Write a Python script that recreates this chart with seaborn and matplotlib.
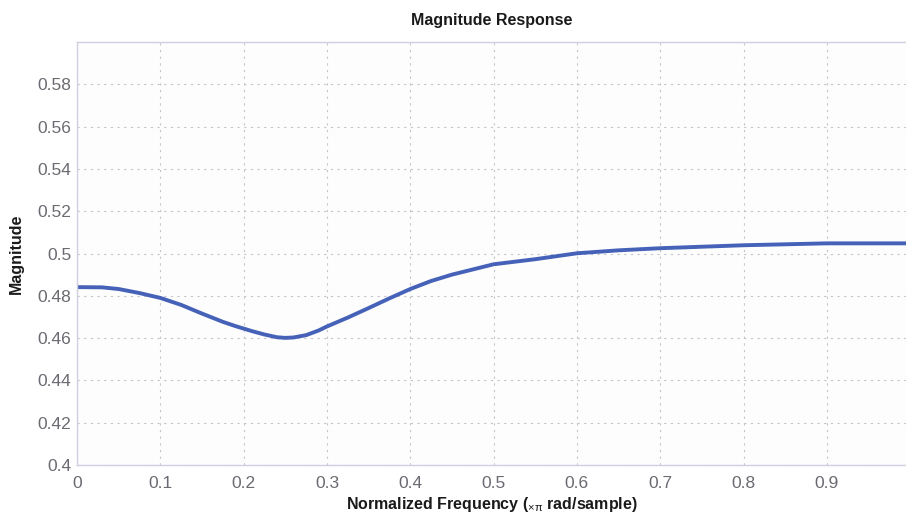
import matplotlib
matplotlib.use("Agg")
import matplotlib.pyplot as plt
import seaborn as sns
import pandas as pd

# Normalized frequency (x pi rad/sample) and magnitude of the response
freq = [0.0, 0.03, 0.05, 0.075, 0.1, 0.125, 0.15, 0.175, 0.19, 0.2, 0.21,
        0.225, 0.24, 0.25, 0.26, 0.275, 0.29, 0.3, 0.325, 0.35, 0.375, 0.4,
        0.425, 0.45, 0.5, 0.55, 0.6, 0.65, 0.7, 0.8, 0.9, 0.995]
magnitude = [0.4841, 0.4840, 0.4832, 0.4813, 0.4790, 0.4757, 0.4716, 0.4677,
             0.4657, 0.4645, 0.4633, 0.4617, 0.4604, 0.4601, 0.4603, 0.4614,
             0.4636, 0.4655, 0.4697, 0.4742, 0.4788, 0.4832, 0.4870, 0.4900,
             0.4949, 0.4973, 0.5001, 0.5015, 0.5025, 0.5039, 0.5048, 0.5048]

x_ticks = [0, 0.1, 0.2, 0.3, 0.4, 0.5, 0.6, 0.7, 0.8, 0.9]
x_tick_labels = ["0", "0.1", "0.2", "0.3", "0.4", "0.5", "0.6", "0.7", "0.8", "0.9"]
y_ticks = [0.4, 0.42, 0.44, 0.46, 0.48, 0.5, 0.52, 0.54, 0.56, 0.58]
y_tick_labels = ["0.4", "0.42", "0.44", "0.46", "0.48", "0.5", "0.52", "0.54", "0.56", "0.58"]

sns.set_style("white")
plt.rcParams["font.family"] = ["Liberation Sans", "DejaVu Sans"]
plt.rcParams["mathtext.fontset"] = "custom"
plt.rcParams["mathtext.rm"] = "Liberation Sans"
plt.rcParams["mathtext.it"] = "Liberation Sans"

label_font = ["Liberation Sans Narrow", "Liberation Sans", "DejaVu Sans"]

df = pd.DataFrame({"freq": freq, "magnitude": magnitude})

fig = plt.figure(figsize=(9.06, 5.13), dpi=100)
ax = fig.add_axes([77 / 906, 48 / 513, 1 - 77 / 906, (465 - 42) / 513])
ax.set_facecolor("#fdfdfd")

sns.lineplot(data=df, x="freq", y="magnitude", ax=ax, color="#4562b8",
             linewidth=2.8, estimator=None)

ax.set_xlim(0, 0.995)
ax.set_ylim(0.4, 0.6)
ax.set_xticks(x_ticks)
ax.set_xticklabels(x_tick_labels)
ax.set_yticks(y_ticks)
ax.set_yticklabels(y_tick_labels)
ax.tick_params(axis="both", labelsize=12.5, labelcolor="#6a6a72", length=0)
ax.tick_params(axis="x", pad=8)
ax.tick_params(axis="y", pad=4)

ax.grid(True, linestyle=(0, (2, 4)), color="#c4c4cc", linewidth=0.8)
for name, sp in ax.spines.items():
    sp.set_color("#cfd0e0")
    sp.set_linewidth(1.0)
ax.spines["right"].set_visible(False)

ax.set_title("Magnitude Response", fontsize=11.5, fontweight="bold", pad=12,
             family=label_font, color="#1a1a1a")
ax.set_xlabel(r"Normalized Frequency ($_{\times\pi}$ rad/sample)", fontsize=11.5,
              fontweight="bold", labelpad=3, family=label_font, color="#1a1a1a")
ax.set_ylabel("Magnitude", fontsize=11.5, fontweight="bold", labelpad=10,
              family=label_font, color="#1a1a1a")

fig.savefig("out.png", dpi=100, facecolor="white")
